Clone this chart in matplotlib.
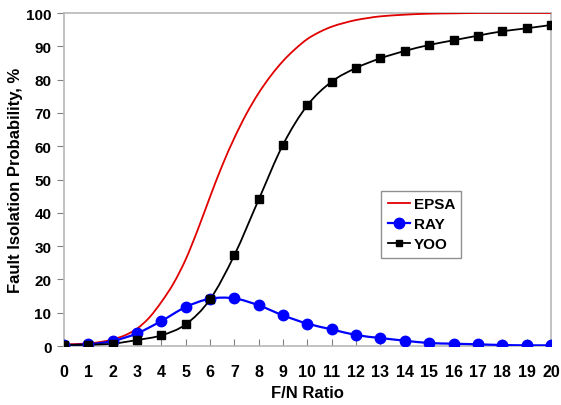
import numpy as np
import matplotlib
matplotlib.use("Agg")
import matplotlib.pyplot as plt
from matplotlib.path import Path
from matplotlib.patches import PathPatch
from matplotlib.lines import Line2D

plt.rcParams['font.family'] = ['Liberation Sans', 'DejaVu Sans']
plt.rcParams['font.weight'] = 'bold'

# F/N ratio
fn_ratio = list(range(21))

# EPSA curve read at half steps
epsa_x = [0, 0.5, 1, 1.5, 2, 2.5, 3, 3.5, 4, 4.5, 5, 5.5, 6, 6.5, 7, 7.5, 8, 8.5, 9,
          9.5, 10, 10.5, 11, 11.5, 12, 12.5, 13, 14, 15, 16, 17, 18, 19, 20]
epsa_y = [0.5, 0.6, 0.8, 1.2, 2.0, 3.2, 5.2, 8.5, 13.2, 18.8, 26.0, 35.0, 44.8, 54.2, 62.5,
          69.8, 76.0, 81.2, 85.6, 89.2, 92.2, 94.3, 95.9, 97.0, 97.9, 98.5, 99.0, 99.5,
          99.8, 99.9, 100.0, 100.0, 100.0, 100.0]

ray = [0.3, 0.5, 1.5, 3.8, 7.5, 11.7, 14.2, 14.3, 12.2, 9.2, 6.7, 5.0, 3.3, 2.4, 1.6,
       0.9, 0.7, 0.5, 0.3, 0.2, 0.2]
yoo = [0.3, 0.4, 0.7, 1.8, 3.2, 6.5, 14.0, 27.3, 44.0, 60.5, 72.3, 79.4, 83.5, 86.4,
       88.6, 90.4, 91.8, 93.2, 94.5, 95.4, 96.4]


def smooth_path(xs, ys):
    # Bezier path through the points (like Excel's smoothed line)
    pts = np.column_stack([xs, ys]).astype(float)
    verts = [pts[0]]
    codes = [Path.MOVETO]
    n = len(pts)
    for i in range(n - 1):
        p0 = pts[i - 1] if i > 0 else pts[i]
        p1 = pts[i]
        p2 = pts[i + 1]
        p3 = pts[i + 2] if i + 2 < n else pts[i + 1]
        c1 = p1 + (p2 - p0) / 6.0
        c2 = p2 - (p3 - p1) / 6.0
        verts += [c1, c2, p2]
        codes += [Path.CURVE4] * 3
    return Path(verts, codes)


fig = plt.figure(figsize=(5.61, 4.06), dpi=100)
ax = fig.add_axes([0.114, 0.1453, 0.868, 0.8202])

red = '#e00000'
blue = '#0000ff'

ax.add_patch(PathPatch(smooth_path(epsa_x, epsa_y), fill=False, edgecolor=red, lw=1.3, zorder=3))
ax.add_patch(PathPatch(smooth_path(fn_ratio, ray), fill=False, edgecolor=blue, lw=1.6, zorder=3))
ax.add_patch(PathPatch(smooth_path(fn_ratio, yoo), fill=False, edgecolor='black', lw=1.3, zorder=3))
ax.plot(fn_ratio, ray, ls='none', marker='o', ms=7.5, color=blue, zorder=4)
ax.plot(fn_ratio, yoo, ls='none', marker='s', ms=6, color='black', zorder=5)

ax.set_xlim(0, 20)
ax.set_ylim(0, 100)
ax.set_xticks(fn_ratio)
ax.set_yticks(range(0, 101, 10))

for s in ax.spines.values():
    s.set_color('#b8b8b8')
    s.set_linewidth(1.2)

ax.tick_params(axis='x', direction='in', length=5, color='#808080', pad=13, labelsize=11.5)
ax.tick_params(axis='y', direction='out', length=5, color='#808080', pad=4, labelsize=11)

ax.set_xlabel('F/N Ratio', fontsize=12, fontweight='bold', labelpad=4)
ax.set_ylabel('Fault Isolation Probability, %', fontsize=12, fontweight='bold', labelpad=2)

handles = [Line2D([], [], color=red, lw=1.3),
           Line2D([], [], color=blue, lw=1.6, marker='o', ms=7.5),
           Line2D([], [], color='black', lw=1.3, marker='s', ms=5)]
leg = ax.legend(handles, ['EPSA', 'RAY', 'YOO'], loc='upper left',
                bbox_to_anchor=(0.652, 0.465), borderaxespad=0, fontsize=11,
                handlelength=1.5, handletextpad=0.2, labelspacing=0.4, borderpad=0.4,
                fancybox=False, framealpha=1, edgecolor='#909090')
leg.get_frame().set_linewidth(1.0)

plt.savefig('out.png', dpi=100)
plt.close()
